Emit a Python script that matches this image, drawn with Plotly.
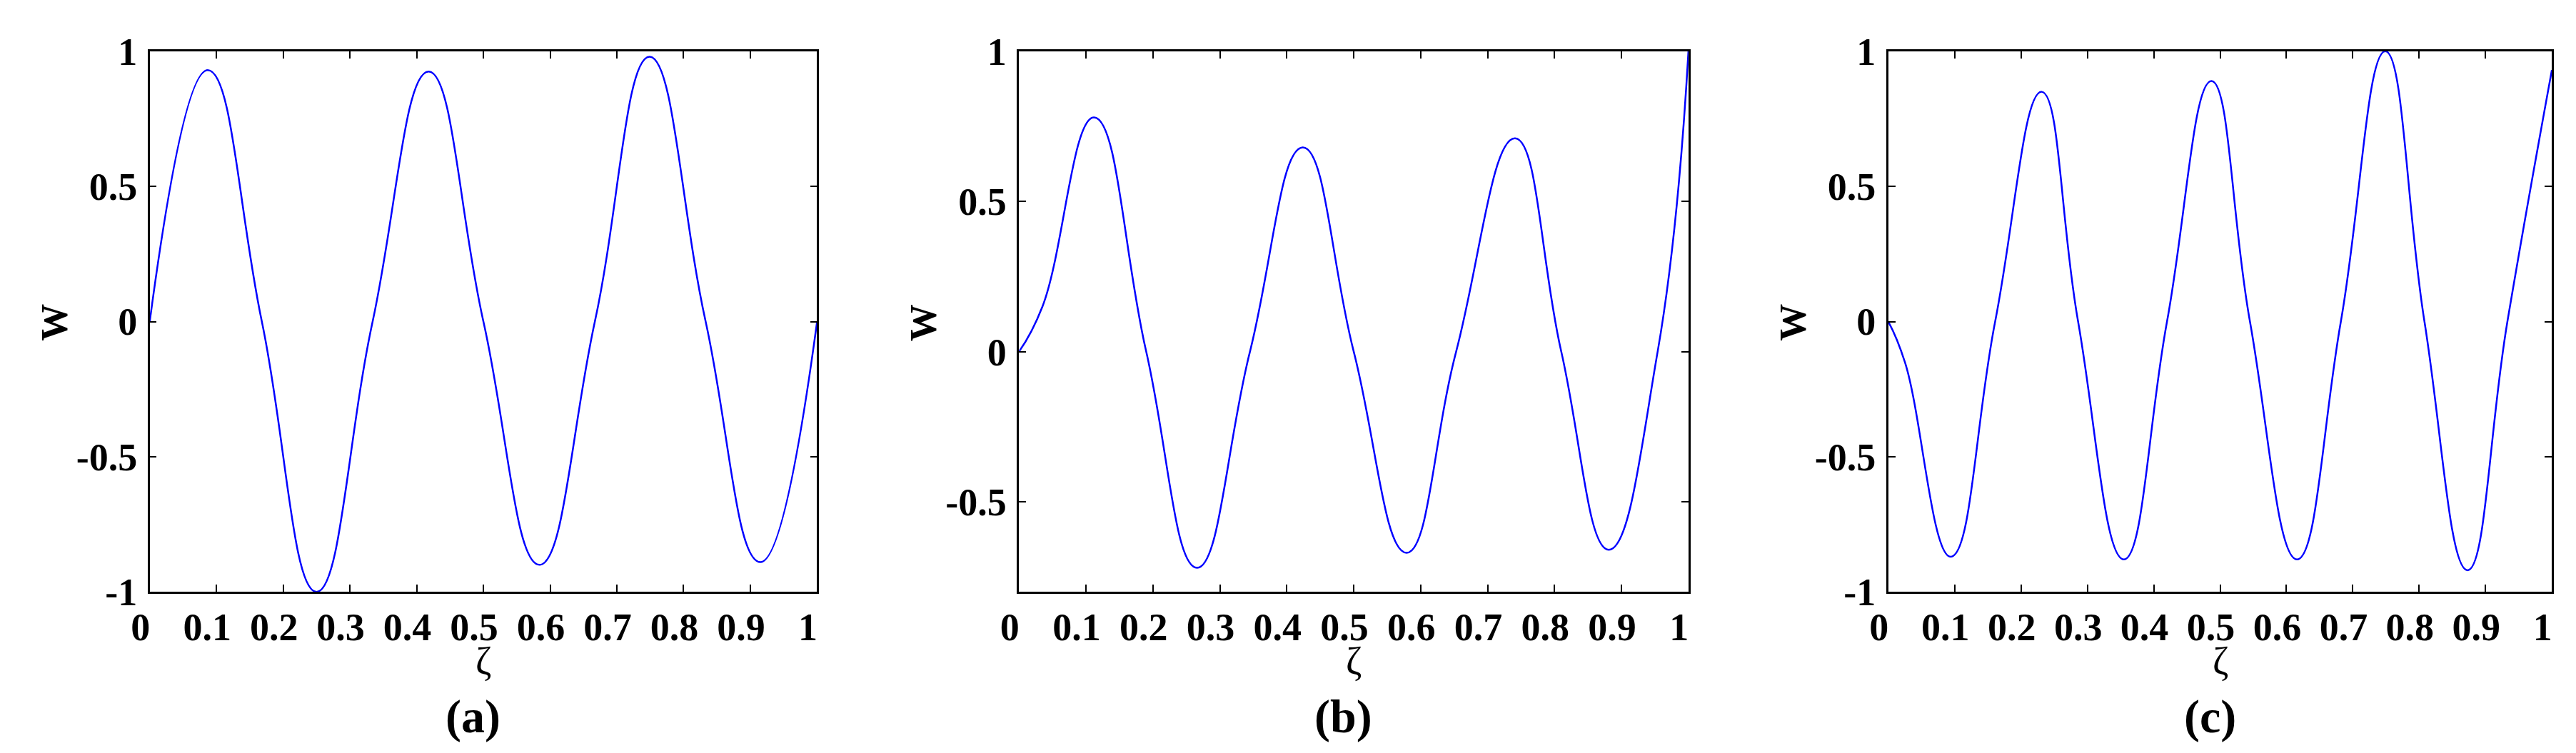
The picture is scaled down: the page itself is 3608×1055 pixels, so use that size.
import plotly.graph_objects as go

xa = [0, 0.087, 0.168, 0.25, 0.334, 0.418, 0.5, 0.584, 0.667, 0.749, 0.833, 0.915, 1.0]
ya = [0, 0.93, 0, -1.0, 0, 0.925, 0, -0.90, 0, 0.98, 0, -0.89, 0]

xb = [0, 0.035, 0.112, 0.19, 0.266, 0.345, 0.424, 0.5, 0.579, 0.653, 0.741, 0.81, 0.881, 0.954, 1.0]
yb = [0, 0.15, 0.78, 0, -0.72, 0, 0.68, 0, -0.67, 0, 0.71, 0, -0.66, 0, 1.0]

xc = [0, 0.025, 0.094, 0.161, 0.231, 0.286, 0.355, 0.42, 0.487, 0.545, 0.616, 0.682, 0.749, 0.808, 0.873, 0.933, 1.0]
yc = [0, -0.15, -0.87, 0, 0.85, 0, -0.88, 0, 0.89, 0, -0.88, 0, 1.0, 0, -0.92, 0, 0.93]

panel_labels = ["(a)", "(b)", "(c)"]
y_ranges = [[-1, 1], [-0.8, 1], [-1, 1]]
x_ticks = [0, 0.1, 0.2, 0.3, 0.4, 0.5, 0.6, 0.7, 0.8, 0.9, 1]
x_ticktext = ["0", "0.1", "0.2", "0.3", "0.4", "0.5", "0.6", "0.7", "0.8", "0.9", "1"]
y_ticks = [-1, -0.5, 0, 0.5, 1]
y_ticktext = ["-1", "-0.5", "0", "0.5", "1"]

domains = [[0.0488, 0.3099], [0.3889, 0.6508], [0.7290, 0.9886]]
ydom = [0.2038, 0.965]
FONT = "Liberation Serif"

fig = go.Figure()
data = [(xa, ya), (xb, yb), (xc, yc)]
for i, (x, y) in enumerate(data):
    n = "" if i == 0 else str(i + 1)
    fig.add_trace(go.Scatter(x=x, y=y, mode="lines", xaxis="x" + n, yaxis="y" + n,
                             line=dict(color="#0000FF", width=2.5, shape="spline", smoothing=1.3),
                             showlegend=False, hoverinfo="skip"))
    axcommon = dict(showline=True, linecolor="black", linewidth=2.5, mirror="ticks",
                    ticks="inside", ticklen=10, tickwidth=2, tickcolor="black",
                    showgrid=False, zeroline=False,
                    tickfont=dict(family=FONT, size=54, color="black", weight="bold"))
    fig.layout["xaxis" + n] = dict(domain=domains[i], anchor="y" + n, range=[0, 1],
                                   tickvals=x_ticks, ticktext=x_ticktext, ticklabelshift=-13,
                                   **axcommon)
    fig.layout["yaxis" + n] = dict(domain=ydom, anchor="x" + n, range=y_ranges[i],
                                   tickvals=y_ticks, ticktext=y_ticktext, ticklabelstandoff=4,
                                   **axcommon)
    cx = (domains[i][0] + domains[i][1]) / 2
    fig.add_annotation(text="ζ", x=cx, y=1 - 944 / 1055, xref="paper", yref="paper",
                       showarrow=False, font=dict(family=FONT, size=54, color="black"),
                       xanchor="center", yanchor="middle")
    fig.add_annotation(text="<b>" + panel_labels[i] + "</b>", x=cx - 0.004, y=1 - 1025 / 1055,
                       xref="paper", yref="paper", showarrow=False,
                       font=dict(family=FONT, size=66, color="black"),
                       xanchor="center", yanchor="middle")
    wx = domains[i][0] - 134 / 3608
    fig.add_annotation(text="<b>W</b>", x=wx, y=1 - 440 / 1055, xref="paper", yref="paper",
                       showarrow=False, textangle=-90,
                       font=dict(family=FONT, size=52, color="black"),
                       xanchor="center", yanchor="middle")

fig.update_layout(width=3608, height=1055, margin=dict(l=0, r=0, t=0, b=0),
                  paper_bgcolor="white", plot_bgcolor="white")
fig.write_html("out.html")
